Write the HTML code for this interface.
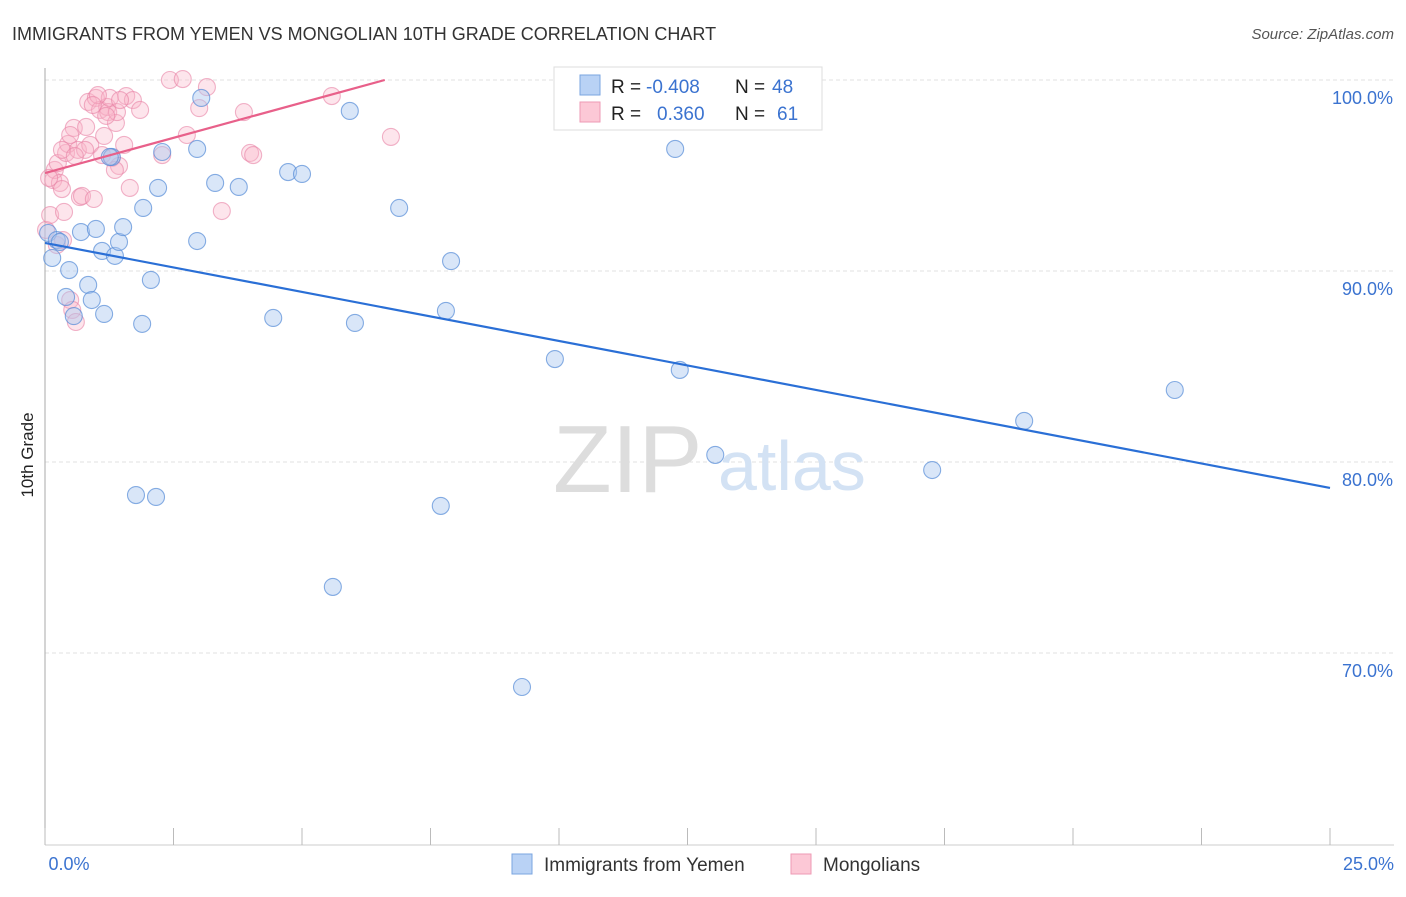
<!DOCTYPE html>
<html><head><meta charset="utf-8"><style>
body{margin:0;background:#fff;font-family:"Liberation Sans",sans-serif;}
svg text{font-family:"Liberation Sans",sans-serif;}
</style></head><body>
<svg width="1406" height="892" xmlns="http://www.w3.org/2000/svg">
<text x="12" y="40" font-size="18" fill="#333">IMMIGRANTS FROM YEMEN VS MONGOLIAN 10TH GRADE CORRELATION CHART</text>
<text x="1394" y="39" font-size="15" fill="#555" text-anchor="end" font-style="italic">Source: ZipAtlas.com</text>
<g id="grid"></g>
<g>
<text x="553" y="492" font-size="96" font-family="Liberation Serif" fill="#ddd">ZIP</text>
<text x="718" y="490" font-size="70" fill="#d3e2f4">atlas</text>
</g>
<line x1="45" y1="68" x2="45" y2="845" stroke="#aaa"/>
<line x1="45" y1="845" x2="1394" y2="845" stroke="#ccc"/>
<g id="xticks"></g>
<g id="ylabels"></g>
<text x="69" y="870" font-size="18" fill="#3b73d0" text-anchor="middle">0.0%</text>
<text x="1394" y="870" font-size="18" fill="#3b73d0" text-anchor="end">25.0%</text>
<text transform="translate(33,455) rotate(-90)" font-size="17" fill="#222" text-anchor="middle">10th Grade</text>
<g id="pts"></g>
<g id="trends"></g>
<g>
<rect x="554" y="67" width="268" height="63" fill="#fff" stroke="#ddd"/>
<rect x="580" y="75" width="20" height="20" fill="#b9d2f5" stroke="#7aa5e0"/>
<rect x="580" y="102" width="20" height="20" fill="#fcc8d6" stroke="#ee9ab4"/>
<text y="93" font-size="19" fill="#222"><tspan x="611">R =</tspan><tspan x="646" fill="#3b73d0">-0.408</tspan><tspan x="735">N =</tspan><tspan x="772" fill="#3b73d0">48</tspan></text>
<text y="120" font-size="19" fill="#222"><tspan x="611">R =</tspan><tspan x="657" fill="#3b73d0">0.360</tspan><tspan x="735">N =</tspan><tspan x="777" fill="#3b73d0">61</tspan></text>
</g>
<g>
<rect x="512" y="854" width="20" height="20" fill="#b9d2f5" stroke="#7aa5e0"/>
<text x="544" y="871" font-size="19" fill="#333">Immigrants from Yemen</text>
<rect x="791" y="854" width="20" height="20" fill="#fcc8d6" stroke="#ee9ab4"/>
<text x="823" y="871" font-size="19" fill="#333">Mongolians</text>
</g>
</svg>
<script>
const yTicks=[100,90,80,70];
const yTickLabels=["100.0%","90.0%","80.0%","70.0%"];
const xTicks=[0,2.5,5,7.5,10,12.5,15,17.5,20,22.5,25];
const blueX=[.06,.14,.23,.47,.41,.56,.70,.84,.91,.99,1.15,1.11,1.36,1.44,1.52,1.30,1.91,1.89,2.06,2.20,2.28,1.77,2.16,2.96,3.04,2.96,3.31,3.77,4.44,4.73,5.00,5.60,5.93,6.03,6.89,7.70,7.80,7.90,9.28,9.92,12.26,12.35,13.04,17.26,19.05,21.98,.29,1.26];
const blueY=[91.99,90.68,91.62,90.05,88.64,87.64,92.04,89.27,88.48,92.20,87.75,91.05,90.79,91.52,92.30,95.97,93.30,87.23,89.53,94.35,96.23,78.27,78.17,96.39,99.06,91.57,94.61,94.40,87.54,95.18,95.08,73.46,98.38,87.28,93.30,77.70,87.91,90.52,68.22,85.39,96.39,84.82,80.37,79.58,82.15,83.77,91.52,95.97];
const pinkX=[.02,.10,.16,.19,.25,.29,.37,.41,.45,.49,.53,.56,.60,.64,.68,.72,.80,.84,.88,.95,.99,1.07,1.11,1.15,1.21,1.23,1.26,1.30,1.38,1.40,1.44,1.54,1.58,1.65,1.71,1.85,2.28,2.43,2.76,2.68,3.00,3.15,3.44,3.87,3.99,4.05,5.58,6.73,.33,.08,.23,.35,.78,1.03,1.36,.49,1.46,.93,1.19,.58,.33];
const pinkY=[92.15,92.93,94.76,95.29,95.65,94.61,93.09,96.18,96.65,88.48,87.96,97.49,87.33,96.34,93.87,93.93,97.54,98.85,96.60,93.77,99.06,98.43,96.07,97.07,98.59,98.32,99.06,95.92,97.75,98.32,95.50,96.60,99.16,94.35,98.95,98.43,96.07,100.0,97.12,100.05,98.53,99.63,93.14,98.32,96.18,96.07,99.16,97.02,96.34,94.87,91.36,91.62,96.34,99.21,95.29,97.12,98.95,98.69,98.12,96.02,94.29];
const blueTrend=[91.47,78.64];
const pinkTrend=[95.13,100.0];
const pinkTrendEnd=6.61;
const NS="http://www.w3.org/2000/svg";
const xs=v=>45+v*51.4, ys=v=>80+(100-v)*19.1;
function mk(t,a,p){const e=document.createElementNS(NS,t);for(const k in a)e.setAttribute(k,a[k]);document.getElementById(p).appendChild(e);return e;}
yTicks.forEach((v,i)=>{
 const l=mk('line',{x1:45,x2:1394,y1:ys(v),y2:ys(v),stroke:'#e2e2e2','stroke-dasharray':'4,3'},'grid');
 
 
 const t=mk('text',{x:1393,y:ys(v)+24,'font-size':18,fill:'#3b73d0','text-anchor':'end'},'ylabels');
 t.textContent=yTickLabels[i];
 
 
});
xTicks.forEach(v=>{
 const l=mk('line',{x1:xs(v),x2:xs(v),y1:828,y2:845,stroke:'#bbb'},'xticks');
 
 
});
pinkX.forEach((v,i)=>{
 const c=mk('circle',{cx:xs(v),cy:ys(pinkY[i]),r:8.5,fill:'rgba(250,180,200,0.35)',stroke:'rgba(232,130,165,0.6)','stroke-width':1.1},'pts');
 
 
});
blueX.forEach((v,i)=>{
 const c=mk('circle',{cx:xs(v),cy:ys(blueY[i]),r:8.5,fill:'rgba(170,200,240,0.45)',stroke:'rgba(85,140,215,0.7)','stroke-width':1.1},'pts');
 
 
});
const tb=mk('line',{x1:xs(0),y1:ys(blueTrend[0]),x2:xs(25),y2:ys(blueTrend[1]),stroke:'#2a6fd6','stroke-width':2.2},'trends');


const tp=mk('line',{x1:xs(0),y1:ys(pinkTrend[0]),x2:xs(pinkTrendEnd),y2:ys(pinkTrend[1]),stroke:'#e8608a','stroke-width':2.2},'trends');


</script>
</body></html>
